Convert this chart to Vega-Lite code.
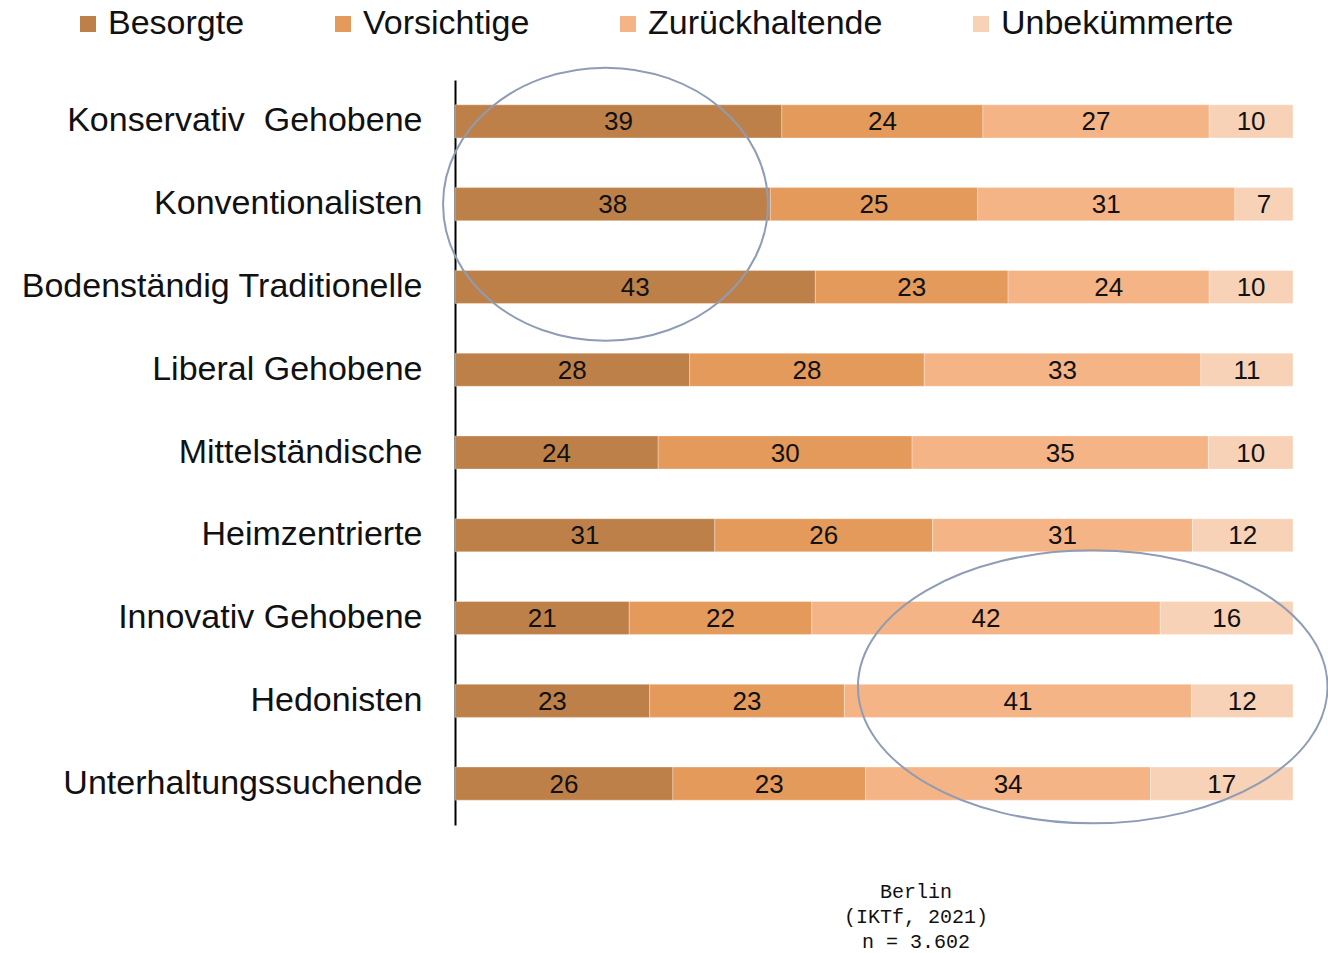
{
  "$schema": "https://vega.github.io/schema/vega-lite/v6.json",
  "width": 838,
  "height": 745,
  "autosize": {"type": "none"},
  "padding": {"left": 455, "top": 80, "right": 35, "bottom": 128},
  "background": "white",
  "config": {"view": {"stroke": null}},
  "title": {
    "text": ["Berlin", "(IKTf, 2021)", "n = 3.602"],
    "orient": "bottom",
    "anchor": "middle",
    "frame": "group",
    "font": "Liberation Mono",
    "fontSize": 20,
    "fontWeight": "normal",
    "color": "#111111",
    "lineHeight": 25,
    "offset": 55,
    "dx": 42
  },
  "datasets": {
    "werte": [
      {"Milieu": "Konservativ\u00a0 Gehobene", "Typ": "Besorgte", "Anteil": 39},
      {"Milieu": "Konservativ\u00a0 Gehobene", "Typ": "Vorsichtige", "Anteil": 24},
      {"Milieu": "Konservativ\u00a0 Gehobene", "Typ": "Zurückhaltende", "Anteil": 27},
      {"Milieu": "Konservativ\u00a0 Gehobene", "Typ": "Unbekümmerte", "Anteil": 10},
      {"Milieu": "Konventionalisten", "Typ": "Besorgte", "Anteil": 38},
      {"Milieu": "Konventionalisten", "Typ": "Vorsichtige", "Anteil": 25},
      {"Milieu": "Konventionalisten", "Typ": "Zurückhaltende", "Anteil": 31},
      {"Milieu": "Konventionalisten", "Typ": "Unbekümmerte", "Anteil": 7},
      {"Milieu": "Bodenständig Traditionelle", "Typ": "Besorgte", "Anteil": 43},
      {"Milieu": "Bodenständig Traditionelle", "Typ": "Vorsichtige", "Anteil": 23},
      {"Milieu": "Bodenständig Traditionelle", "Typ": "Zurückhaltende", "Anteil": 24},
      {"Milieu": "Bodenständig Traditionelle", "Typ": "Unbekümmerte", "Anteil": 10},
      {"Milieu": "Liberal Gehobene", "Typ": "Besorgte", "Anteil": 28},
      {"Milieu": "Liberal Gehobene", "Typ": "Vorsichtige", "Anteil": 28},
      {"Milieu": "Liberal Gehobene", "Typ": "Zurückhaltende", "Anteil": 33},
      {"Milieu": "Liberal Gehobene", "Typ": "Unbekümmerte", "Anteil": 11},
      {"Milieu": "Mittelständische", "Typ": "Besorgte", "Anteil": 24},
      {"Milieu": "Mittelständische", "Typ": "Vorsichtige", "Anteil": 30},
      {"Milieu": "Mittelständische", "Typ": "Zurückhaltende", "Anteil": 35},
      {"Milieu": "Mittelständische", "Typ": "Unbekümmerte", "Anteil": 10},
      {"Milieu": "Heimzentrierte", "Typ": "Besorgte", "Anteil": 31},
      {"Milieu": "Heimzentrierte", "Typ": "Vorsichtige", "Anteil": 26},
      {"Milieu": "Heimzentrierte", "Typ": "Zurückhaltende", "Anteil": 31},
      {"Milieu": "Heimzentrierte", "Typ": "Unbekümmerte", "Anteil": 12},
      {"Milieu": "Innovativ Gehobene", "Typ": "Besorgte", "Anteil": 21},
      {"Milieu": "Innovativ Gehobene", "Typ": "Vorsichtige", "Anteil": 22},
      {"Milieu": "Innovativ Gehobene", "Typ": "Zurückhaltende", "Anteil": 42},
      {"Milieu": "Innovativ Gehobene", "Typ": "Unbekümmerte", "Anteil": 16},
      {"Milieu": "Hedonisten", "Typ": "Besorgte", "Anteil": 23},
      {"Milieu": "Hedonisten", "Typ": "Vorsichtige", "Anteil": 23},
      {"Milieu": "Hedonisten", "Typ": "Zurückhaltende", "Anteil": 41},
      {"Milieu": "Hedonisten", "Typ": "Unbekümmerte", "Anteil": 12},
      {"Milieu": "Unterhaltungssuchende", "Typ": "Besorgte", "Anteil": 26},
      {"Milieu": "Unterhaltungssuchende", "Typ": "Vorsichtige", "Anteil": 23},
      {"Milieu": "Unterhaltungssuchende", "Typ": "Zurückhaltende", "Anteil": 34},
      {"Milieu": "Unterhaltungssuchende", "Typ": "Unbekümmerte", "Anteil": 17}
    ],
    "markierung1": [{"Milieu": "Konventionalisten", "Anteil": 0.1796}],
    "markierung2": [{"Milieu": "Hedonisten", "Anteil": 0.761}]
  },
  "layer": [
    {
      "data": {"name": "werte"},
      "transform": [
        {"calculate": "indexof(['Besorgte','Vorsichtige','Zurückhaltende','Unbekümmerte'], datum.Typ)", "as": "rang"},
        {"stack": "Anteil", "groupby": ["Milieu"], "sort": [{"field": "rang", "order": "ascending"}], "offset": "normalize", "as": ["x0", "x1"]},
        {"calculate": "(datum.x0 + datum.x1) / 2", "as": "xmitte"}
      ],
      "layer": [
        {
          "mark": {"type": "bar", "stroke": "white", "strokeWidth": 0.6, "strokeOpacity": 0.5},
          "encoding": {
            "y": {
              "field": "Milieu", "type": "nominal", "title": null,
              "sort": ["Konservativ\u00a0 Gehobene", "Konventionalisten", "Bodenständig Traditionelle", "Liberal Gehobene", "Mittelständische", "Heimzentrierte", "Innovativ Gehobene", "Hedonisten", "Unterhaltungssuchende"],
              "scale": {"paddingInner": 0.6, "paddingOuter": 0.3},
              "axis": {
                "domain": true, "domainColor": "#000000", "domainWidth": 2,
                "ticks": false, "grid": false, "labelPadding": 33,
                "labelFont": "Liberation Sans", "labelFontSize": 34, "labelColor": "#111111",
                "labelLimit": 600
              }
            },
            "x": {"field": "x0", "type": "quantitative", "title": null, "scale": {"domain": [0, 1], "nice": false, "zero": true}, "axis": null},
            "x2": {"field": "x1"},
            "color": {
              "field": "Typ", "type": "nominal",
              "scale": {"domain": ["Besorgte", "Vorsichtige", "Zurückhaltende", "Unbekümmerte"], "range": ["#BE8049", "#E39A5A", "#F5B486", "#F8D2B6"]},
              "legend": {
                "orient": "none", "legendX": -384, "legendY": -73, "direction": "horizontal",
                "title": null, "symbolType": "square", "symbolSize": 256, "symbolStrokeWidth": 0,
                "symbolOpacity": 1,
                "labelFont": "Liberation Sans", "labelFontSize": 34, "labelColor": "#111111",
                "labelOffset": 3, "columnPadding": 81, "labelLimit": 400
              }
            }
          }
        },
        {
          "mark": {"type": "text", "font": "Liberation Sans", "fontSize": 26, "color": "#111111", "baseline": "middle", "align": "center", "dy": 1},
          "encoding": {
            "y": {"field": "Milieu", "type": "nominal", "title": null,
              "sort": ["Konservativ\u00a0 Gehobene", "Konventionalisten", "Bodenständig Traditionelle", "Liberal Gehobene", "Mittelständische", "Heimzentrierte", "Innovativ Gehobene", "Hedonisten", "Unterhaltungssuchende"]},
            "x": {"field": "xmitte", "type": "quantitative", "title": null},
            "text": {"field": "Anteil", "type": "quantitative"}
          }
        }
      ]
    },
    {
      "data": {"name": "markierung1"},
      "mark": {
        "type": "point", "filled": false, "stroke": "#8E9CB6", "strokeWidth": 2, "opacity": 1, "size": 74529,
        "shape": "M -1.19 0 C -1.19 -0.5523 -0.657 -1 0 -1 C 0.657 -1 1.19 -0.5523 1.19 0 C 1.19 0.5523 0.657 1 0 1 C -0.657 1 -1.19 0.5523 -1.19 0 Z"
      },
      "encoding": {
        "y": {"field": "Milieu", "type": "nominal", "title": null,
          "sort": ["Konservativ\u00a0 Gehobene", "Konventionalisten", "Bodenständig Traditionelle", "Liberal Gehobene", "Mittelständische", "Heimzentrierte", "Innovativ Gehobene", "Hedonisten", "Unterhaltungssuchende"]},
        "x": {"field": "Anteil", "type": "quantitative", "title": null}
      }
    },
    {
      "data": {"name": "markierung2"},
      "mark": {
        "type": "point", "filled": false, "stroke": "#8E9CB6", "strokeWidth": 2, "opacity": 1, "size": 74529, "yOffset": -14,
        "shape": "M -1.72 0 C -1.72 -0.5523 -0.95 -1 0 -1 C 0.95 -1 1.72 -0.5523 1.72 0 C 1.72 0.5523 0.95 1 0 1 C -0.95 1 -1.72 0.5523 -1.72 0 Z"
      },
      "encoding": {
        "y": {"field": "Milieu", "type": "nominal", "title": null,
          "sort": ["Konservativ\u00a0 Gehobene", "Konventionalisten", "Bodenständig Traditionelle", "Liberal Gehobene", "Mittelständische", "Heimzentrierte", "Innovativ Gehobene", "Hedonisten", "Unterhaltungssuchende"]},
        "x": {"field": "Anteil", "type": "quantitative", "title": null}
      }
    }
  ]
}
